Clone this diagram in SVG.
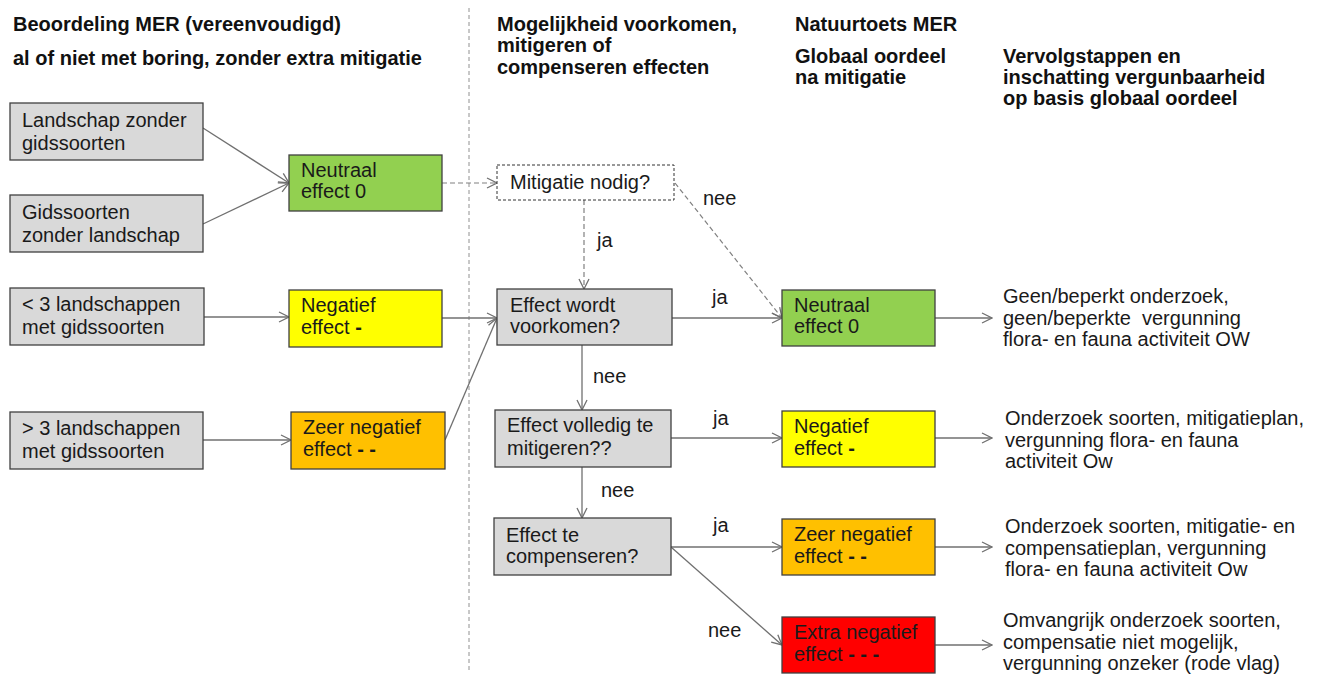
<svg xmlns="http://www.w3.org/2000/svg" width="1321" height="675" viewBox="0 0 1321 675">
  <style>
    text { font-family: "Liberation Sans", Arial, sans-serif; font-size: 20px; fill: #1a1a1a; }
    .hd { font-weight: bold; fill: #111; }
    .box { stroke: #404040; stroke-width: 1.3; }
    .grey { fill: #d9d9d9; }
    .green { fill: #92d050; }
    .yellow { fill: #ffff00; }
    .orange { fill: #ffc000; }
    .red { fill: #ff0000; }
    .dbox { fill: #ffffff; stroke: #333; stroke-width: 1; stroke-dasharray: 3 2; }
    .c { fill: none; stroke: #707070; stroke-width: 1.3; marker-end: url(#arr); }
    .cd { fill: none; stroke: #808080; stroke-width: 1.2; stroke-dasharray: 5 3; marker-end: url(#arr); }
    .sep { stroke: #909090; stroke-width: 1; stroke-dasharray: 4 3; }
  </style>
  <defs>
    <marker id="arr" markerUnits="userSpaceOnUse" markerWidth="12" markerHeight="12" refX="11" refY="6" orient="auto">
      <path d="M1,1 L11,6 L1,11" fill="none" stroke="#707070" stroke-width="1.3"/>
    </marker>
  </defs>

  <rect width="1321" height="675" fill="#ffffff"/>

  <!-- column headings -->
  <g id="headings">
    <text class="hd" x="13" y="31">Beoordeling MER (vereenvoudigd)</text>
    <text class="hd" x="13" y="65">al of niet met boring, zonder extra mitigatie</text>
    <text class="hd" x="497" y="31">Mogelijkheid voorkomen,</text>
    <text class="hd" x="497" y="52">mitigeren of</text>
    <text class="hd" x="497" y="74">compenseren effecten</text>
    <text class="hd" x="795" y="31">Natuurtoets MER</text>
    <text class="hd" x="795" y="63">Globaal oordeel</text>
    <text class="hd" x="795" y="84">na mitigatie</text>
    <text class="hd" x="1003" y="63">Vervolgstappen en</text>
    <text class="hd" x="1003" y="84">inschatting vergunbaarheid</text>
    <text class="hd" x="1003" y="105">op basis globaal oordeel</text>
  </g>

  <line class="sep" x1="469" y1="8" x2="469" y2="672"/>

  <!-- connectors -->
  <g id="connectors">
    <path class="c" d="M203,128 L289,183"/>
    <path class="c" d="M203,224 L289,183"/>
    <path class="c" d="M204,317 L289,317"/>
    <path class="c" d="M203,440 L291,440"/>
    <path class="cd" d="M442,183 L497,183"/>
    <path class="c" d="M442,318 L497,318"/>
    <path class="c" d="M445,440 L497,318"/>
    <path class="cd" d="M584,200 L584,289"/>
    <path class="cd" d="M675,183 L782,318"/>
    <path class="c" d="M672,318 L782,318"/>
    <path class="c" d="M582,345 L582,410"/>
    <path class="c" d="M671,438 L782,438"/>
    <path class="c" d="M582,467 L582,518"/>
    <path class="c" d="M671,547 L782,547"/>
    <path class="c" d="M671,547 L782,645"/>
    <path class="c" d="M935,318 L992,318"/>
    <path class="c" d="M935,438 L992,438"/>
    <path class="c" d="M935,547 L992,547"/>
    <path class="c" d="M935,645 L992,645"/>
    <text x="597" y="247">ja</text>
    <text x="703" y="205">nee</text>
    <text x="712" y="304">ja</text>
    <text x="593" y="383">nee</text>
    <text x="713" y="425">ja</text>
    <text x="601" y="497">nee</text>
    <text x="713" y="532">ja</text>
    <text x="708" y="637">nee</text>
  </g>

  <!-- input situations -->
  <g id="landschap-zonder">
    <rect class="box grey" x="10" y="103" width="193" height="57"/>
    <text x="22" y="127">Landschap zonder</text>
    <text x="22" y="150">gidssoorten</text>
  </g>
  <g id="gidssoorten-zonder">
    <rect class="box grey" x="10" y="195" width="193" height="57"/>
    <text x="22" y="219">Gidssoorten</text>
    <text x="22" y="242">zonder landschap</text>
  </g>
  <g id="minder-3">
    <rect class="box grey" x="10" y="288" width="194" height="57"/>
    <text x="22" y="311">&lt; 3 landschappen</text>
    <text x="22" y="334">met gidssoorten</text>
  </g>
  <g id="meer-3">
    <rect class="box grey" x="10" y="412" width="193" height="57"/>
    <text x="22" y="435">&gt; 3 landschappen</text>
    <text x="22" y="458">met gidssoorten</text>
  </g>

  <!-- MER assessment -->
  <g id="mer-neutraal">
    <rect class="box green" x="289" y="155" width="153" height="56"/>
    <text x="301" y="177">Neutraal</text>
    <text x="301" y="198">effect 0</text>
  </g>
  <g id="mer-negatief">
    <rect class="box yellow" x="289" y="290" width="153" height="57"/>
    <text x="301" y="312">Negatief</text>
    <text x="301" y="334">effect <tspan font-weight="bold">-</tspan></text>
  </g>
  <g id="mer-zeer-negatief">
    <rect class="box orange" x="291" y="412" width="154" height="57"/>
    <text x="303" y="434">Zeer negatief</text>
    <text x="303" y="456">effect <tspan font-weight="bold">- -</tspan></text>
  </g>

  <!-- decision steps -->
  <g id="mitigatie-nodig">
    <rect class="dbox" x="497" y="165" width="177" height="35"/>
    <text x="510" y="189">Mitigatie nodig?</text>
  </g>
  <g id="voorkomen">
    <rect class="box grey" x="497" y="289" width="175" height="56"/>
    <text x="510" y="312">Effect wordt</text>
    <text x="510" y="333">voorkomen?</text>
  </g>
  <g id="mitigeren">
    <rect class="box grey" x="495" y="410" width="176" height="57"/>
    <text x="507" y="432">Effect volledig te</text>
    <text x="507" y="455">mitigeren??</text>
  </g>
  <g id="compenseren">
    <rect class="box grey" x="494" y="518" width="177" height="57"/>
    <text x="506" y="542">Effect te</text>
    <text x="506" y="563">compenseren?</text>
  </g>

  <!-- overall judgement -->
  <g id="oordeel-neutraal">
    <rect class="box green" x="782" y="290" width="153" height="56"/>
    <text x="794" y="312">Neutraal</text>
    <text x="794" y="333">effect 0</text>
  </g>
  <g id="oordeel-negatief">
    <rect class="box yellow" x="782" y="411" width="153" height="56"/>
    <text x="794" y="433">Negatief</text>
    <text x="794" y="455">effect <tspan font-weight="bold">-</tspan></text>
  </g>
  <g id="oordeel-zeer-negatief">
    <rect class="box orange" x="782" y="519" width="153" height="56"/>
    <text x="794" y="541">Zeer negatief</text>
    <text x="794" y="563">effect <tspan font-weight="bold">- -</tspan></text>
  </g>
  <g id="oordeel-extra-negatief">
    <rect class="box red" x="782" y="617" width="153" height="56"/>
    <text x="794" y="639">Extra negatief</text>
    <text x="794" y="661">effect <tspan font-weight="bold">- - -</tspan></text>
  </g>

  <!-- follow-up steps -->
  <g id="vervolg-neutraal">
    <text x="1003" y="303">Geen/beperkt onderzoek,</text>
    <text x="1003" y="325" xml:space="preserve">geen/beperkte  vergunning</text>
    <text x="1003" y="346">flora- en fauna activiteit OW</text>
  </g>
  <g id="vervolg-negatief">
    <text x="1005" y="425">Onderzoek soorten, mitigatieplan,</text>
    <text x="1005" y="447">vergunning flora- en fauna</text>
    <text x="1005" y="468">activiteit Ow</text>
  </g>
  <g id="vervolg-zeer-negatief">
    <text x="1005" y="533">Onderzoek soorten, mitigatie- en</text>
    <text x="1005" y="555">compensatieplan, vergunning</text>
    <text x="1005" y="576">flora- en fauna activiteit Ow</text>
  </g>
  <g id="vervolg-extra-negatief">
    <text x="1003" y="627">Omvangrijk onderzoek soorten,</text>
    <text x="1003" y="649">compensatie niet mogelijk,</text>
    <text x="1003" y="670">vergunning onzeker (rode vlag)</text>
  </g>
</svg>
